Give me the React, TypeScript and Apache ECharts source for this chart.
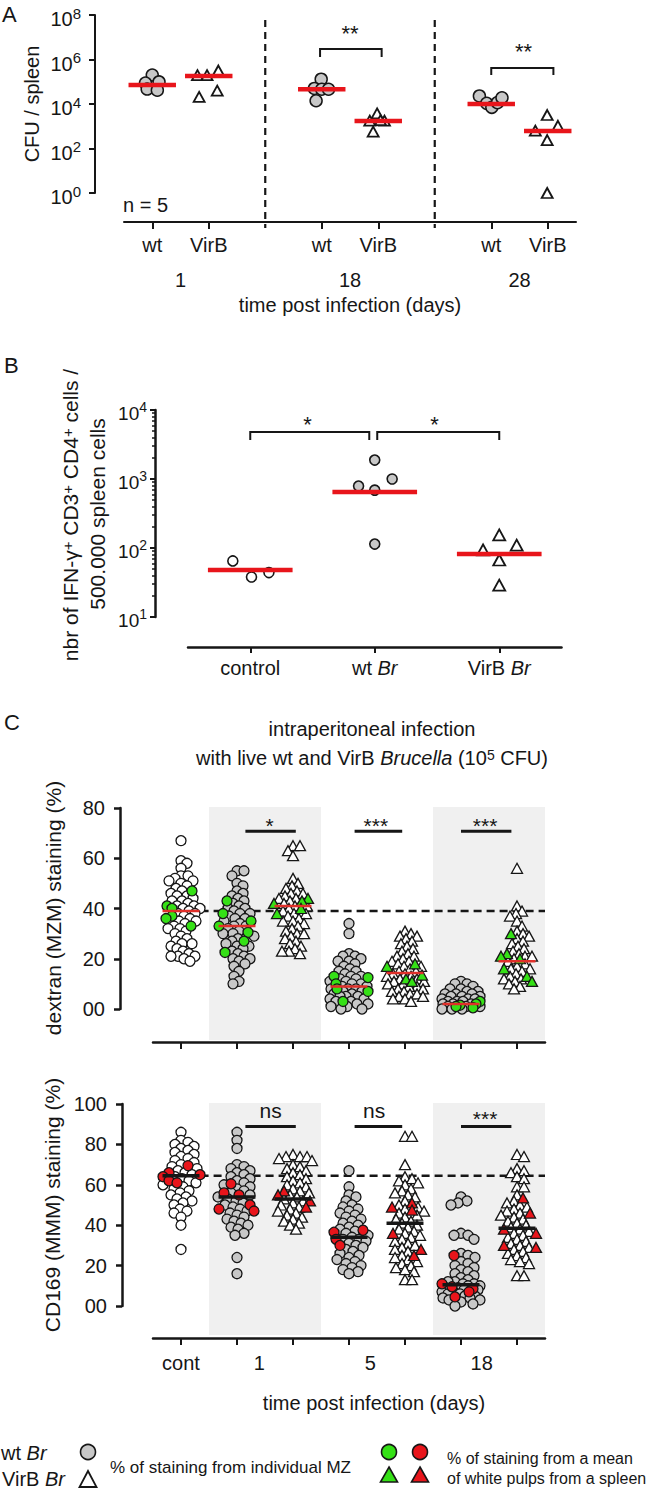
import React, { useEffect, useRef } from 'react';
import * as echarts from 'echarts';

const FONT = '"Liberation Sans", Arial, Helvetica, sans-serif';
const INK = '#161616';
const GRAY = '#c8c8c8';
const GREEN = '#35e016';
const RED = '#e8151b';
const SHADE = '#f0f0f0';

// ---------------- Panel A : CFU / spleen ----------------
const A_TICK_POS = [0, 1, 3, 4, 6, 7];
const A_TICK_LABELS = ['wt', 'VirB', 'wt', 'VirB', 'wt', 'VirB'];
const A_DAY_POS = [0.5, 3.5, 6.5];
const A_DAYS = ['1', '18', '28'];
const A_Y_TICKS = [1, 1e2, 1e4, 1e6, 1e8];
const A_WT = [
  [0.0, 2.0e5], [-0.12, 8.7e4], [0.12, 9.8e4], [-0.09, 4.7e4], [0.09, 4.2e4],
  [2.99, 1.3e5], [2.87, 5.0e4], [3.0, 4.6e4], [3.12, 4.6e4], [2.9, 1.4e4],
  [5.79, 2.3e4], [5.92, 1.07e4], [6.01, 7.1e3], [6.11, 1.15e4], [6.19, 1.9e4],
];
const A_VIRB = [
  [0.8, 2.0e5], [0.97, 2.0e5], [1.17, 3.2e5], [0.83, 2.1e4], [1.15, 4.0e4],
  [3.98, 3.8e3], [3.85, 1.8e3], [4.11, 1.8e3], [3.91, 5.7e2], [4.04, 1.9e3],
  [6.99, 3.2e3], [6.78, 6.3e2], [7.18, 1.05e3], [6.99, 2.4e2], [6.99, 1],
];
const A_WT_MEAN = [[0, 7.1e4], [3, 4.6e4], [6, 1.0e4]];
const A_VIRB_MEAN = [[1, 1.8e5], [4, 1.7e3], [7, 6.1e2]];

// ---------------- Panel B : IFN-gamma+ cells ----------------
const B_CATS = ['control', 'wt', 'VirB'];
const B_Y_TICKS = [10, 100, 1000, 10000];
const B_MINOR = [20, 30, 40, 50, 60, 70, 80, 90, 200, 300, 400, 500, 600, 700, 800, 900, 2000, 3000, 4000, 5000, 6000, 7000, 8000, 9000];
const B_CONTROL = [[-0.14, 65], [0.01, 38], [0.15, 44]];
const B_WT = [[1.0, 1880], [1.14, 1000], [0.87, 790], [1.0, 690], [1.0, 114]];
const B_VIRB = [[2.0, 155], [1.87, 94], [2.14, 110], [2.0, 67], [2.0, 29]];
const B_MEAN = [[0, 48], [1, 650], [2, 82]];

// ---------------- Panel C : MZ staining ----------------
const C_TICK_POS = [0, 1, 2, 3, 4, 5, 6];
const C_LABEL_POS = [0, 1.4, 3.38, 5.37];
const C_LABELS = ['cont', '1', '5', '18'];
// dextran (MZM) staining, % from individual MZ
const C_DEX_IND = [
  [67, 59, 58, 56, 53, 53, 52, 51, 51, 50, 49, 48, 47, 46, 45, 45, 44, 43, 43, 42, 41, 41, 40, 40, 39, 38, 38, 37, 36, 35, 35, 34, 33, 32, 32, 31, 30, 29, 28, 27, 26, 26, 25, 24, 23, 22, 21, 21, 21, 20, 19],
  [55, 55, 53, 50, 49, 47, 46, 45, 44, 43, 42, 41, 40, 40, 39, 38, 38, 37, 36, 36, 35, 34, 33, 33, 32, 31, 30, 30, 29, 28, 27, 26, 25, 25, 24, 23, 22, 21, 20, 20, 19, 18, 17, 15, 13, 11, 10],
  [65, 65, 63, 61, 52, 50, 49, 48, 47, 46, 46, 45, 44, 44, 43, 42, 41, 41, 40, 39, 38, 38, 37, 36, 35, 35, 34, 33, 32, 31, 30, 30, 29, 28, 27, 26, 25, 24, 23, 23, 22],
  [34, 30, 22, 21, 21, 20, 19, 19, 18, 17, 16, 15, 15, 14, 13, 13, 12, 12, 11, 11, 10, 10, 9, 9, 8, 8, 8, 7, 7, 6, 6, 5, 5, 5, 4, 4, 3, 3, 2, 2, 1, 1, 0, 0],
  [31, 30, 29, 29, 28, 27, 26, 25, 24, 23, 22, 21, 21, 20, 19, 19, 18, 17, 17, 16, 15, 15, 14, 14, 13, 13, 12, 12, 11, 11, 10, 10, 9, 9, 8, 8, 7, 7, 6, 6, 5, 5, 4, 4, 3],
  [11, 10, 10, 9, 8, 8, 7, 7, 6, 6, 6, 5, 5, 5, 4, 4, 4, 3, 3, 3, 2, 2, 2, 1, 1, 1, 0, 0, 0],
  [56, 41, 39, 38, 37, 35, 33, 31, 30, 29, 28, 27, 26, 25, 24, 23, 22, 21, 21, 20, 19, 18, 17, 16, 16, 15, 14, 13, 12, 12, 11, 10, 9, 8],
];
// dextran, % from a mean of white pulps of a spleen (green)
const C_DEX_SPLEEN = [
  [47, 41, 40, 37, 36, 33], [43, 38, 35, 33, 30.5, 27, 22.5], [44, 43, 42, 40, 38],
  [13, 12.5, 10, 8, 7, 3], [18, 17, 13.5, 12, 11], [3, 2, 1.5, 1, 0.5], [30, 22, 21, 20, 16, 13, 11],
];
const C_DEX_MEAN = [39, 33, 41, 9, 14.3, 2, 19];
// CD169 (MMM) staining
const C_CD_IND = [
  [86, 82, 81, 80, 79, 78, 77, 76, 75, 74, 73, 72, 71, 70, 69, 68, 67, 66, 65, 64, 63, 62, 61, 60, 59, 58, 57, 56, 55, 54, 53, 52, 51, 50, 48, 47, 46, 44, 40, 28],
  [86, 82, 78, 70, 69, 68, 67, 66, 65, 64, 63, 62, 61, 60, 59, 58, 57, 56, 55, 54, 53, 52, 51, 50, 49, 48, 47, 46, 45, 44, 43, 42, 41, 40, 39, 38, 36, 35, 24, 16],
  [75, 74, 74, 74, 73, 72, 70, 69, 68, 67, 66, 65, 64, 63, 62, 61, 60, 59, 58, 57, 56, 55, 54, 53, 52, 51, 50, 49, 48, 47, 46, 45, 44, 43, 42, 41, 40, 38],
  [67, 59, 55, 54, 52, 50, 49, 48, 47, 46, 45, 44, 43, 42, 41, 40, 39, 38, 37, 36, 35, 34, 33, 33, 32, 31, 30, 29, 28, 27, 26, 25, 24, 23, 22, 21, 20, 19, 18, 17, 16],
  [84, 84, 70, 64, 63, 62, 61, 60, 58, 57, 56, 55, 54, 52, 50, 49, 48, 47, 46, 45, 44, 43, 42, 41, 40, 39, 38, 37, 36, 35, 34, 33, 32, 31, 30, 29, 28, 27, 25, 24, 23, 22, 21, 20, 19, 18, 17, 13, 13],
  [54, 52, 51, 50, 36, 35, 35, 33, 26, 25, 24, 22, 21, 20, 19, 18, 17, 16, 15, 14, 13, 12, 12, 11, 11, 10, 10, 9, 9, 8, 8, 7, 7, 6, 6, 5, 5, 4, 4, 3, 3, 2, 1, 0],
  [75, 74, 68, 67, 66, 64, 63, 59, 59, 55, 52, 51, 50, 49, 48, 47, 46, 45, 44, 43, 42, 41, 40, 39, 38, 37, 36, 35, 34, 33, 32, 31, 30, 29, 28, 27, 26, 25, 24, 23, 22, 21, 15, 15],
];
const C_CD_SPLEEN = [
  [69.5, 66, 65, 64, 62, 61], [60.5, 56, 55, 50, 48, 47], [57, 55, 52, 49],
  [37.5, 36.5, 33, 30], [51, 49, 47.5, 36, 28, 25], [25, 11, 9.5, 8.5, 7, 4.5], [53.5, 46, 38, 36, 30, 29],
];
const C_CD_MEAN = [64.5, 54, 53, 34, 41, 10.5, 38.5];
const C_DEX_REF = 39;
const C_CD_REF = 64.5;

// significance annotations (x in axis units, y in data units)
const A_SIG = [
  { x1: 2.97, x2: 4.06, y: Math.pow(10, 6.47), leg: 8, tx: 3.5, dy: -16, text: '**' },
  { x1: 6.0, x2: 7.1, y: Math.pow(10, 5.62), leg: 7, tx: 6.57, dy: -16, text: '**' },
];
const B_SIG = [
  { x1: 0, x2: 0.956, y: Math.pow(10, 3.68), leg: 8, tx: 0.46, dy: -8, text: '*' },
  { x1: 1.02, x2: 2.0, y: Math.pow(10, 3.68), leg: 8, tx: 1.48, dy: -8, text: '*' },
];
const C_DEX_SIG = [
  { x1: 1.15, x2: 2.05, y: 70.7, leg: 0, tx: 1.58, dy: -6, text: '*' },
  { x1: 3.1, x2: 3.95, y: 70.7, leg: 0, tx: 3.48, dy: -6, text: '***' },
  { x1: 5.0, x2: 5.9, y: 70.7, leg: 0, tx: 5.43, dy: -6, text: '***' },
];
const C_CD_SIG = [
  { x1: 1.15, x2: 2.05, y: 88.8, leg: 0, tx: 1.6, dy: -16, text: 'ns' },
  { x1: 3.1, x2: 3.95, y: 88.8, leg: 0, tx: 3.45, dy: -16, text: 'ns' },
  { x1: 5.0, x2: 5.9, y: 88.8, leg: 0, tx: 5.43, dy: -8, text: '***' },
];

// ---------------- helpers ----------------
const findLabel = (pos: number[], labels: string[], v: number) => {
  const i = pos.findIndex((p) => Math.abs(p - v) < 1e-6);
  return i >= 0 ? labels[i] : '';
};

const supRich = (base: number, sup: number) => ({
  b: { fontFamily: FONT, fontSize: base, lineHeight: base + 7, color: INK },
  s: { fontFamily: FONT, fontSize: sup, lineHeight: sup, verticalAlign: 'top', color: INK },
});
const powLabel = (v: number) => `{b|10}{s|${Math.round(Math.log10(v))}}`;

// simple beeswarm layout (pixel space) so that overlapping dots spread sideways
function swarm(vals: number[], pxPerY: number, pxPerX: number, d: number, maxHalf: number) {
  const order = vals.map((_, i) => i).sort((a, b) => vals[b] - vals[a]);
  const placed: { x: number; y: number }[] = [];
  const out: number[] = new Array(vals.length).fill(0);
  for (const i of order) {
    const y = vals[i] * pxPerY;
    let best = 0;
    let bestScore = -1;
    for (let k = 0; k <= 2 * maxHalf; k++) {
      const off = (k % 2 === 1 ? 1 : -1) * Math.ceil(k / 2);
      let minD = Infinity;
      for (const p of placed) {
        const dy = p.y - y;
        if (Math.abs(dy) < d) {
          const dd = Math.hypot(p.x - off, dy);
          if (dd < minD) minD = dd;
        }
      }
      if (minD >= d) { best = off; bestScore = Infinity; break; }
      if (minD > bestScore) { bestScore = minD; best = off; }
    }
    placed.push({ x: best, y });
    out[i] = best / pxPerX;
  }
  return out;
}

function buildC(ind: number[][], col: number[][], pxPerY: number) {
  const openC: number[][] = [], grayC: number[][] = [], openT: number[][] = [], colC: number[][] = [], colT: number[][] = [];
  ind.forEach((vals, g) => {
    const all = vals.concat(col[g]);
    const offs = swarm(all, pxPerY, 56, 6.5, 19);
    const tri = g > 0 && g % 2 === 0;
    all.forEach((v, i) => {
      const pt = [g + offs[i], v];
      if (i >= vals.length) (tri ? colT : colC).push(pt);
      else if (tri) openT.push(pt);
      else if (g === 0) openC.push(pt);
      else grayC.push(pt);
    });
  });
  return { openC, grayC, openT, colC, colT };
}

const scatter = (xi: number, yi: number, data: number[][], symbol: string, size: any, fill: string, z = 3, bw = 1.3) => ({
  type: 'scatter', xAxisIndex: xi, yAxisIndex: yi, data, symbol, symbolSize: size, silent: true, clip: false, z,
  itemStyle: { color: fill, borderColor: INK, borderWidth: bw, opacity: 1 },
});

const meanSeries = (xi: number, yi: number, data: number[][], color: string, width: number, half: number) => ({
  type: 'custom', xAxisIndex: xi, yAxisIndex: yi, silent: true, z: 5, data,
  renderItem: (_p: any, api: any) => {
    const x = api.value(0), y = api.value(1);
    const a = api.coord([x - half, y]);
    const b = api.coord([x + half, y]);
    return { type: 'line', shape: { x1: a[0], y1: a[1], x2: b[0], y2: b[1] }, style: { stroke: color, lineWidth: width } };
  },
});

const sigSeries = (xi: number, yi: number, items: any[], lw: number, fs: number) => ({
  type: 'custom', xAxisIndex: xi, yAxisIndex: yi, silent: true, z: 6,
  data: items.map((s) => [s.x1, s.y]),
  renderItem: (params: any, api: any) => {
    const s = items[params.dataIndex];
    const a = api.coord([s.x1, s.y]);
    const b = api.coord([s.x2, s.y]);
    const pts = s.leg ? [[a[0], a[1] + s.leg], a, b, [b[0], b[1] + s.leg]] : [a, b];
    const t = api.coord([s.tx, s.y]);
    return {
      type: 'group',
      children: [
        { type: 'polyline', shape: { points: pts }, style: { stroke: INK, lineWidth: lw, fill: 'none' } },
        { type: 'text', x: t[0], y: t[1] + s.dy, style: { text: s.text, font: `${fs}px ${FONT}`, fill: INK, align: 'center', verticalAlign: 'middle', textAlign: 'center', textVerticalAlign: 'middle' } },
      ],
    };
  },
});

const axisLine = (w = 2) => ({ show: true, onZero: false, lineStyle: { color: INK, width: w } });

function gText(x: number, y: number, text: string, size: number, extra: any = {}, rot = 0) {
  return {
    type: 'text', x, y, rotation: rot, silent: true,
    style: { text, font: `${size}px ${FONT}`, fill: INK, align: 'left', verticalAlign: 'middle', textAlign: 'left', textVerticalAlign: 'middle', ...extra },
  };
}
const richSet = (size: number) => ({
  n: { fontFamily: FONT, fontSize: size, fill: INK, color: INK },
  i: { fontFamily: FONT, fontSize: size, fontStyle: 'italic', fill: INK, color: INK },
  s: { fontFamily: FONT, fontSize: Math.round(size * 0.72), lineHeight: Math.round(size * 0.72), verticalAlign: 'top', fill: INK, color: INK },
});

function buildOption() {
  const dex = buildC(C_DEX_IND, C_DEX_SPLEEN, 201 / 80);
  const cd = buildC(C_CD_IND, C_CD_SPLEEN, 202 / 100);

  const cSeries = (xi: number, yi: number, sets: any, colColor: string, means: number[], meanColor: string, meanW: number, ref: number, ymax: number, ext: number, sig: any[]) => [
    {
      type: 'custom', xAxisIndex: xi, yAxisIndex: yi, silent: true, z: 0,
      data: [[0.5, ymax], [4.5, ymax]],
      renderItem: (_p: any, api: any) => {
        const x = api.value(0);
        const a = api.coord([x, ymax]);
        const b = api.coord([x + 2, 0]);
        return { type: 'rect', shape: { x: a[0], y: a[1] - 1, width: b[0] - a[0], height: b[1] + ext - a[1] + 1 }, style: { fill: SHADE } };
      },
    },
    {
      type: 'custom', xAxisIndex: xi, yAxisIndex: yi, silent: true, z: 1,
      data: [[0.35, ref]],
      renderItem: (_p: any, api: any) => {
        const a = api.coord([api.value(0), api.value(1)]);
        const b = api.coord([6.5, api.value(1)]);
        return { type: 'line', shape: { x1: a[0], y1: a[1], x2: b[0], y2: b[1] }, style: { stroke: INK, lineWidth: 2.5, lineDash: [8, 5] } };
      },
    },
    scatter(xi, yi, sets.openC, 'circle', 10, '#ffffff'),
    scatter(xi, yi, sets.grayC, 'circle', 10, GRAY),
    scatter(xi, yi, sets.openT, 'triangle', [11, 10], '#ffffff'),
    scatter(xi, yi, sets.colC, 'circle', 10, colColor, 4),
    scatter(xi, yi, sets.colT, 'triangle', [11, 10], colColor, 4),
    meanSeries(xi, yi, means.map((m, i) => [i, m]), meanColor, meanW, 0.33),
    sigSeries(xi, yi, sig, 3, 21),
  ];

  return {
    animation: false,
    backgroundColor: '#ffffff',
    textStyle: { fontFamily: FONT },
    grid: [
      { left: 124, top: 15, width: 452, height: 178 },
      { left: 188, top: 410, width: 373.5, height: 207 },
      { left: 153, top: 808, width: 392, height: 201 },
      { left: 153, top: 1104, width: 392, height: 202 },
    ],
    xAxis: [
      {
        gridIndex: 0, type: 'value', min: -0.5, max: 7.5, position: 'bottom', offset: 29,
        axisLine: axisLine(2), splitLine: { show: false },
        axisTick: { customValues: A_TICK_POS, length: 7, lineStyle: { color: INK, width: 2 } },
        axisLabel: { customValues: A_TICK_POS, formatter: (v: number) => findLabel(A_TICK_POS, A_TICK_LABELS, v), fontFamily: FONT, fontSize: 20, color: INK, margin: 13 },
      },
      {
        gridIndex: 0, type: 'value', min: -0.5, max: 7.5, position: 'bottom', offset: 29,
        axisLine: { show: false, onZero: false }, axisTick: { show: false }, splitLine: { show: false },
        axisLabel: { customValues: A_DAY_POS, formatter: (v: number) => findLabel(A_DAY_POS, A_DAYS, v), fontFamily: FONT, fontSize: 20, color: INK, margin: 48 },
        name: 'time post infection (days)', nameLocation: 'middle', nameGap: 73,
        nameTextStyle: { fontFamily: FONT, fontSize: 20, color: INK },
      },
      {
        gridIndex: 1, type: 'value', min: -0.5, max: 2.5, position: 'bottom', offset: 30,
        axisLine: axisLine(2.5), splitLine: { show: false },
        axisTick: { customValues: [0, 1, 2], length: 6, lineStyle: { color: INK, width: 2 } },
        axisLabel: {
          customValues: [0, 1, 2],
          formatter: (v: number) => (Math.round(v) === 0 ? '{n|control}' : `{n|${B_CATS[Math.round(v)]} }{i|Br}`),
          rich: richSet(20), margin: 11,
        },
      },
      {
        gridIndex: 2, type: 'value', min: -0.5, max: 6.5, position: 'bottom', offset: 33,
        axisLine: axisLine(2.5), splitLine: { show: false },
        axisTick: { customValues: C_TICK_POS, length: 7, lineStyle: { color: INK, width: 2 } },
        axisLabel: { show: false },
      },
      {
        gridIndex: 3, type: 'value', min: -0.5, max: 6.5, position: 'bottom', offset: 32,
        axisLine: axisLine(2.5), splitLine: { show: false },
        axisTick: { customValues: C_TICK_POS, length: 7, lineStyle: { color: INK, width: 2 } },
        axisLabel: { customValues: C_LABEL_POS, formatter: (v: number) => findLabel(C_LABEL_POS, C_LABELS, v), fontFamily: FONT, fontSize: 20, color: INK, margin: 15 },
      },
    ],
    yAxis: [
      {
        gridIndex: 0, type: 'log', min: 1, max: 1e8, position: 'left', offset: 29,
        axisLine: axisLine(2), splitLine: { show: false }, minorTick: { show: false },
        axisTick: { customValues: A_Y_TICKS, length: 6, lineStyle: { color: INK, width: 2 } },
        axisLabel: { customValues: A_Y_TICKS, formatter: powLabel, rich: supRich(20, 15), margin: 14, padding: [8, 0, 0, 0] },
      },
      {
        gridIndex: 1, type: 'log', min: 10, max: 1e4, position: 'left', offset: 33,
        axisLine: axisLine(2.5), splitLine: { show: false },
        axisTick: { customValues: B_Y_TICKS, length: 5, lineStyle: { color: INK, width: 2 } },
        axisLabel: { customValues: B_Y_TICKS, formatter: powLabel, rich: supRich(19, 14), margin: 8, padding: [6, 0, 0, 0] },
      },
      {
        gridIndex: 1, type: 'log', min: 10, max: 1e4, position: 'left', offset: 33,
        axisLine: { show: false, onZero: false }, splitLine: { show: false }, axisLabel: { show: false },
        axisTick: { customValues: B_MINOR, length: 3, lineStyle: { color: INK, width: 1.5 } },
      },
      {
        gridIndex: 2, type: 'value', min: 0, max: 80, interval: 20, position: 'left', offset: 33,
        axisLine: axisLine(2.5), splitLine: { show: false },
        axisTick: { length: 6, lineStyle: { color: INK, width: 2.5 } },
        axisLabel: { formatter: (v: number) => (v === 0 ? '00' : String(v)), fontFamily: FONT, fontSize: 20, color: INK, margin: 15 },
      },
      {
        gridIndex: 3, type: 'value', min: 0, max: 100, interval: 20, position: 'left', offset: 31,
        axisLine: axisLine(2.5), splitLine: { show: false },
        axisTick: { length: 6, lineStyle: { color: INK, width: 2.5 } },
        axisLabel: { formatter: (v: number) => (v === 0 ? '00' : String(v)), fontFamily: FONT, fontSize: 20, color: INK, margin: 15 },
      },
    ],
    series: [
      // ---- panel A ----
      {
        type: 'custom', xAxisIndex: 0, yAxisIndex: 0, silent: true, z: 1,
        data: [[2, 1e8], [5, 1e8]],
        renderItem: (_p: any, api: any) => {
          const top = api.coord([api.value(0), 1e8]);
          const bot = api.coord([api.value(0), 1]);
          return { type: 'line', shape: { x1: top[0], y1: top[1] + 5, x2: top[0], y2: bot[1] + 35 }, style: { stroke: INK, lineWidth: 2.2, lineDash: [7, 5] } };
        },
      },
      scatter(0, 0, A_WT, 'circle', 12, GRAY, 3, 1.5),
      scatter(0, 0, A_VIRB, 'triangle', [11, 10], '#ffffff', 3, 1.8),
      meanSeries(0, 0, A_WT_MEAN, RED, 4.5, 0.42),
      meanSeries(0, 0, A_VIRB_MEAN, RED, 4.5, 0.42),
      sigSeries(0, 0, A_SIG, 2, 22),
      // ---- panel B ----
      scatter(2, 1, B_CONTROL, 'circle', 10, '#ffffff', 3, 1.6),
      scatter(2, 1, B_WT, 'circle', 10, GRAY, 3, 1.6),
      scatter(2, 1, B_VIRB, 'triangle', [12, 11], '#ffffff', 3, 1.8),
      meanSeries(2, 1, B_MEAN, RED, 4.5, 0.34),
      sigSeries(2, 1, B_SIG, 2, 22),
      // ---- panel C ----
      ...cSeries(3, 3, dex, GREEN, C_DEX_MEAN, '#e0302a', 2.5, C_DEX_REF, 80, 31, C_DEX_SIG),
      ...cSeries(4, 4, cd, RED, C_CD_MEAN, INK, 3.5, C_CD_REF, 100, 29, C_CD_SIG),
    ],
    graphic: [
      gText(2, 14, 'A', 22),
      gText(32, 104, 'CFU / spleen', 20, { align: 'center', textAlign: 'center' }, Math.PI / 2),
      gText(123, 205, 'n = 5', 20),
      gText(4, 365, 'B', 22),
      gText(70, 515, '{n|nbr of IFN-γ}{s|+}{n| CD3}{s|+}{n| CD4}{s|+}{n| cells /}', 21, { align: 'center', textAlign: 'center', rich: richSet(21) }, Math.PI / 2),
      gText(97, 514, '500.000 spleen cells', 21, { align: 'center', textAlign: 'center' }, Math.PI / 2),
      gText(4, 722, 'C', 22),
      gText(372, 729, 'intraperitoneal infection', 20, { align: 'center', textAlign: 'center' }),
      gText(372, 758, '{n|with live wt and VirB }{i|Brucella}{n| (10}{s|5}{n| CFU)}', 20, { align: 'center', textAlign: 'center', rich: richSet(20) }),
      gText(53, 908, 'dextran (MZM) staining (%)', 21, { align: 'center', textAlign: 'center' }, Math.PI / 2),
      gText(52, 1205, 'CD169 (MMM) staining (%)', 21, { align: 'center', textAlign: 'center' }, Math.PI / 2),
      gText(374, 1403, 'time post infection (days)', 20, { align: 'center', textAlign: 'center' }),
      // legend
      gText(1, 1453, '{n|wt }{i|Br}', 20, { rich: richSet(20) }),
      gText(2, 1479, '{n|VirB }{i|Br}', 20, { rich: richSet(20) }),
      { type: 'circle', silent: true, shape: { cx: 88, cy: 1452, r: 7.5 }, style: { fill: GRAY, stroke: INK, lineWidth: 1.6 } },
      { type: 'polygon', silent: true, shape: { points: [[88, 1471], [96.5, 1487], [79.5, 1487]] }, style: { fill: '#ffffff', stroke: INK, lineWidth: 1.8 } },
      gText(110, 1467, '% of staining from individual MZ', 17),
      { type: 'circle', silent: true, shape: { cx: 389, cy: 1452, r: 7.5 }, style: { fill: GREEN, stroke: INK, lineWidth: 1.6 } },
      { type: 'circle', silent: true, shape: { cx: 420, cy: 1452, r: 7.5 }, style: { fill: RED, stroke: INK, lineWidth: 1.6 } },
      { type: 'polygon', silent: true, shape: { points: [[389, 1467], [397.5, 1482], [380.5, 1482]] }, style: { fill: GREEN, stroke: INK, lineWidth: 1.6 } },
      { type: 'polygon', silent: true, shape: { points: [[420, 1467], [428.5, 1482], [411.5, 1482]] }, style: { fill: RED, stroke: INK, lineWidth: 1.6 } },
      gText(447, 1458, '% of staining from a mean', 16),
      gText(447, 1478, 'of white pulps from a spleen', 16),
    ],
  };
}

export default function App() {
  const ref = useRef<HTMLDivElement>(null);
  useEffect(() => {
    if (!ref.current) return;
    const chart = echarts.init(ref.current, null, { renderer: 'svg' });
    chart.setOption(buildOption() as any);
    return () => chart.dispose();
  }, []);
  return <div ref={ref} style={{ position: 'absolute', left: 0, top: 0, width: 656, height: 1493, background: '#ffffff' }} />;
}
